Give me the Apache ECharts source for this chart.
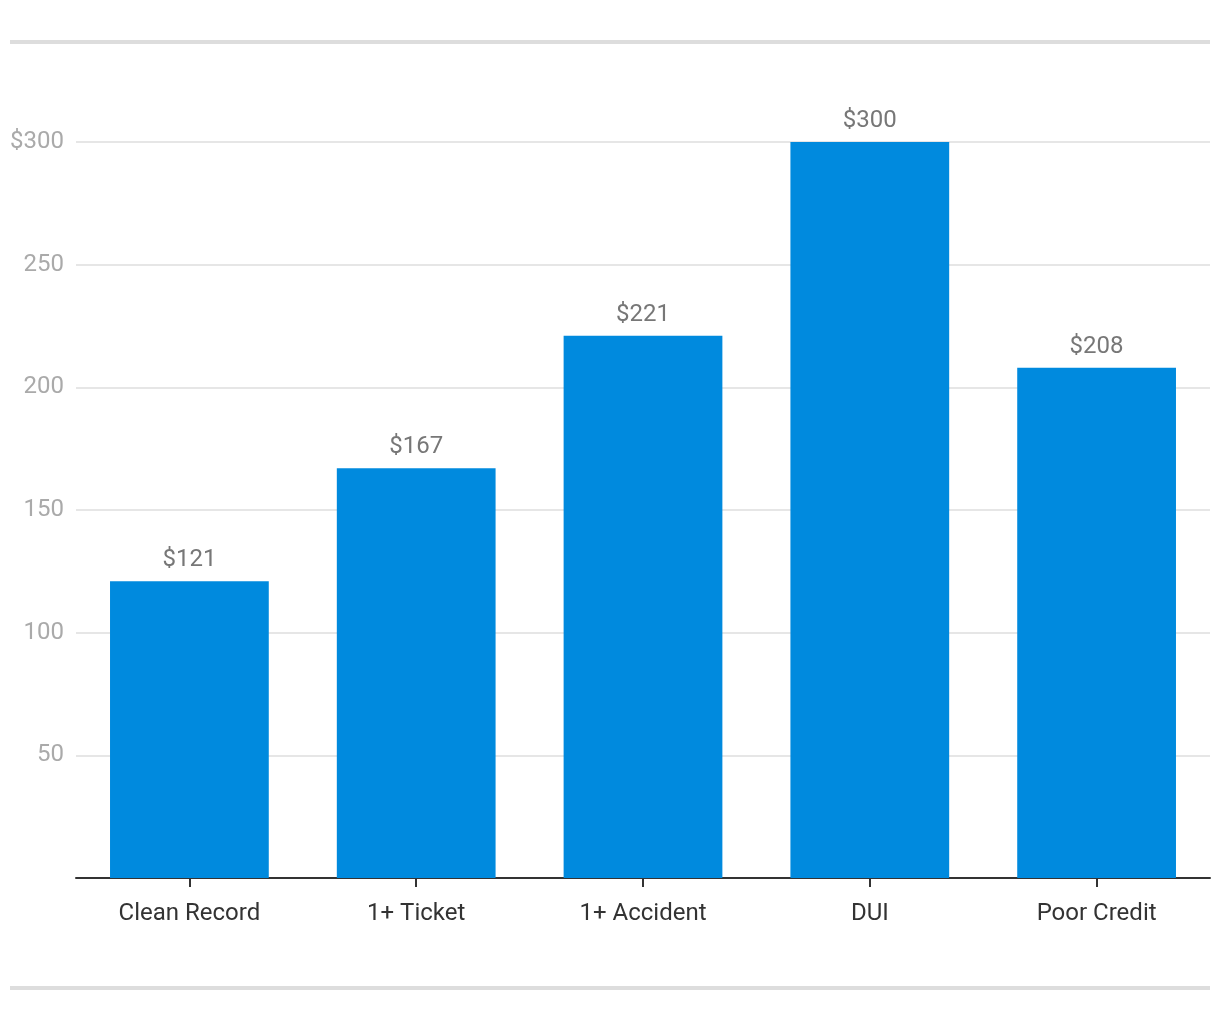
<!DOCTYPE html>
<html>
<head>
<meta charset="utf-8">
<script src="https://cdn.jsdelivr.net/npm/echarts@6/dist/echarts.min.js"></script>
<style>
html,body{margin:0;padding:0;background:#fff;}
#c{width:1220px;height:1020px;}
</style>
</head>
<body>
<div id="c"></div>
<script>
const categories = ['Clean Record', '1+ Ticket', '1+ Accident', 'DUI', 'Poor Credit'];
const values = [121, 167, 221, 300, 208];
const yTicks = [0, 50, 100, 150, 200, 250, 300];

const chart = echarts.init(document.getElementById('c'));
chart.setOption({
  animation: false,
  backgroundColor: '#fff',
  textStyle: { fontFamily: 'Roboto' },
  graphic: [
    { type: 'rect', shape: { x: 10, y: 40, width: 1200, height: 4 }, style: { fill: '#dddddd' } },
    { type: 'rect', shape: { x: 10, y: 986, width: 1200, height: 4 }, style: { fill: '#dddddd' } }
  ],
  grid: { left: 76, right: 10, top: 142, bottom: 142, containLabel: false },
  xAxis: {
    type: 'category',
    data: categories,
    axisLine: { show: true, lineStyle: { color: '#333', width: 2 } },
    axisTick: { show: true, alignWithLabel: true, length: 9, lineStyle: { color: '#333', width: 2 } },
    axisLabel: { color: '#333', fontSize: 24, fontFamily: 'Roboto', margin: 24 }
  },
  yAxis: {
    type: 'value',
    min: yTicks[0],
    max: yTicks[yTicks.length - 1],
    interval: 50,
    axisLine: { show: false },
    axisTick: { show: false },
    splitLine: { lineStyle: { color: '#e6e6e6', width: 2 } },
    axisLabel: {
      color: '#aaaaaa', fontSize: 24, fontFamily: 'Roboto', margin: 12,
      padding: [4, 0, 0, 0],
      formatter: function (v) {
        if (v === 0) return '';
        if (v === yTicks[yTicks.length - 1]) return '$' + v;
        return String(v);
      }
    }
  },
  series: [{
    type: 'bar',
    data: values,
    barCategoryGap: '30%',
    itemStyle: { color: '#008ade' },
    label: {
      show: true, position: 'top', distance: 9,
      color: '#777', fontSize: 24, fontFamily: 'Roboto',
      formatter: function (p) { return '$' + p.value; }
    }
  }]
});
</script>
</body>
</html>
